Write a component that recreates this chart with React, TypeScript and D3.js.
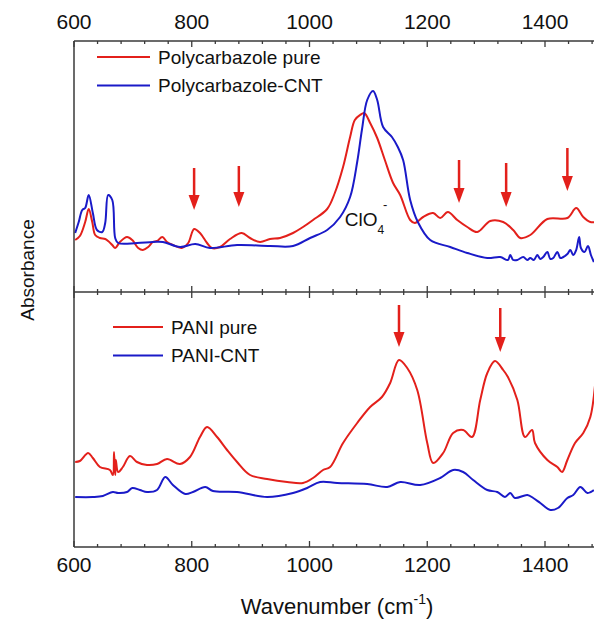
import React, { useEffect, useRef } from 'react';
import * as d3 from 'd3';

// wavenumber (cm-1), absorbance (a.u., offset per panel)
const pcPure: [number, number][] = [
  [602, 0.52], [610, 0.56], [619, 0.70], [625, 0.83], [631, 0.70], [636, 0.57], [644, 0.54],
  [653, 0.53], [658, 0.51], [665, 0.47], [670, 0.44], [678, 0.50], [690, 0.55], [699, 0.52],
  [709, 0.44], [717, 0.42], [726, 0.45], [734, 0.50], [741, 0.51], [750, 0.55], [758, 0.50],
  [768, 0.47], [783, 0.44], [794, 0.49], [804, 0.63], [814, 0.59], [826, 0.49], [834, 0.44],
  [848, 0.45], [865, 0.53], [885, 0.59], [899, 0.54], [916, 0.50], [933, 0.53], [950, 0.54],
  [972, 0.59], [989, 0.65], [1006, 0.72], [1030, 0.83], [1043, 0.99], [1057, 1.25], [1069, 1.55],
  [1077, 1.72], [1086, 1.77], [1093, 1.79], [1103, 1.69], [1115, 1.54], [1128, 1.32], [1142, 1.09],
  [1154, 0.97], [1171, 0.72], [1179, 0.69], [1193, 0.75], [1210, 0.79], [1222, 0.74], [1235, 0.80],
  [1251, 0.72], [1268, 0.65], [1285, 0.60], [1307, 0.71], [1329, 0.70], [1346, 0.62], [1358, 0.54],
  [1375, 0.57], [1404, 0.73], [1438, 0.74], [1453, 0.84], [1465, 0.75], [1477, 0.70], [1485, 0.70],
];

const pcCnt: [number, number][] = [
  [602, 0.59], [608, 0.70], [614, 0.82], [619, 0.84], [625, 0.97], [632, 0.79], [639, 0.62],
  [648, 0.60], [653, 0.69], [658, 0.97], [665, 0.92], [670, 0.54], [675, 0.49], [707, 0.49],
  [734, 0.50], [751, 0.50], [780, 0.45], [806, 0.48], [831, 0.44], [877, 0.47], [933, 0.46],
  [972, 0.46], [1001, 0.54], [1030, 0.62], [1052, 0.75], [1069, 0.95], [1081, 1.30], [1089, 1.62],
  [1098, 1.92], [1108, 2.01], [1115, 1.92], [1125, 1.65], [1140, 1.55], [1150, 1.45], [1159, 1.32],
  [1171, 0.92], [1184, 0.70], [1205, 0.52], [1239, 0.45], [1268, 0.39], [1302, 0.34], [1324, 0.35],
  [1337, 0.32], [1341, 0.37], [1346, 0.32], [1353, 0.32], [1363, 0.35], [1370, 0.32], [1375, 0.34],
  [1381, 0.32], [1387, 0.37], [1392, 0.33], [1397, 0.35], [1404, 0.40], [1409, 0.33], [1414, 0.34],
  [1421, 0.40], [1426, 0.34], [1431, 0.35], [1438, 0.38], [1443, 0.42], [1448, 0.37], [1453, 0.42],
  [1458, 0.55], [1461, 0.44], [1467, 0.40], [1473, 0.46], [1478, 0.37], [1483, 0.30],
];

const paniPure: [number, number][] = [
  [602, 0.85], [610, 0.86], [624, 0.94], [632, 0.89], [644, 0.80], [661, 0.77], [666, 0.72],
  [668, 0.95], [670, 0.72], [671, 0.87], [675, 0.75], [683, 0.80], [695, 0.91], [707, 0.85],
  [724, 0.82], [741, 0.83], [758, 0.88], [780, 0.83], [797, 0.90], [814, 1.10], [826, 1.20],
  [843, 1.10], [860, 0.97], [877, 0.85], [899, 0.72], [928, 0.68], [962, 0.65], [989, 0.64],
  [1006, 0.69], [1023, 0.77], [1035, 0.80], [1057, 1.04], [1081, 1.24], [1103, 1.40], [1123, 1.50],
  [1137, 1.64], [1152, 1.87], [1166, 1.79], [1183, 1.57], [1200, 1.04], [1210, 0.84], [1227, 0.94],
  [1244, 1.14], [1261, 1.17], [1276, 1.10], [1290, 1.47], [1302, 1.74], [1315, 1.86], [1329, 1.77],
  [1337, 1.70], [1353, 1.47], [1366, 1.10], [1378, 1.17], [1383, 1.04], [1404, 0.87], [1421, 0.80],
  [1429, 0.75], [1438, 0.87], [1451, 1.04], [1465, 1.14], [1477, 1.30], [1485, 1.62],
];

const paniCnt: [number, number][] = [
  [602, 0.50], [632, 0.50], [649, 0.51], [666, 0.55], [675, 0.54], [690, 0.55], [699, 0.59],
  [712, 0.57], [724, 0.55], [741, 0.57], [755, 0.70], [768, 0.62], [789, 0.53], [802, 0.55],
  [823, 0.60], [836, 0.56], [877, 0.55], [928, 0.50], [972, 0.54], [996, 0.59], [1018, 0.65],
  [1047, 0.64], [1098, 0.63], [1132, 0.60], [1154, 0.65], [1188, 0.62], [1222, 0.69], [1244, 0.77],
  [1261, 0.75], [1278, 0.67], [1302, 0.57], [1319, 0.55], [1332, 0.50], [1341, 0.54], [1349, 0.49],
  [1370, 0.52], [1380, 0.49], [1392, 0.44], [1409, 0.37], [1422, 0.39], [1438, 0.49], [1448, 0.52],
  [1460, 0.60], [1472, 0.54], [1483, 0.57],
];

// arrows: wavenumber, tail value, tip value
const topArrows: [number, number, number][] = [
  [804, 1.24, 0.82], [880, 1.26, 0.85], [1254, 1.32, 0.89], [1334, 1.29, 0.85], [1438, 1.44, 1.01],
];
const bottomArrows: [number, number, number][] = [
  [1152, 2.42, 2.0], [1324, 2.39, 1.95],
];

const xTicks = [600, 800, 1000, 1200, 1400];
const topLegend = ['Polycarbazole pure', 'Polycarbazole-CNT'];
const bottomLegend = ['PANI pure', 'PANI-CNT'];

const RED = '#e3201b';
const BLUE = '#1a1ac8';
const AXIS = '#3a3a3a';
const FONT = '"Liberation Sans", Arial, sans-serif';

const App = () => {
  const svgRef = useRef<SVGSVGElement>(null);
  const width = 594;
  const height = 620;

  useEffect(() => {
    const svg = d3.select(svgRef.current);
    svg.selectAll('*').remove();

    const left = 74, top = 41, mid = 292, bottom = 547, right = 600;

    const x = d3.scaleLinear().domain([600, 1400]).range([74, 545]);
    const yTop = d3.scaleLinear().domain([0, 2.51]).range([mid, top]);
    const yBot = d3.scaleLinear().domain([0, 2.55]).range([bottom, mid]);

    const line = (ys: d3.ScaleLinear<number, number>) =>
      d3.line<[number, number]>()
        .x(d => x(d[0]))
        .y(d => ys(d[1]))
        .curve(d3.curveCatmullRom.alpha(0.5));

    const drawSeries = (data: [number, number][], ys: d3.ScaleLinear<number, number>, color: string) => {
      svg.append('path')
        .datum(data)
        .attr('d', line(ys))
        .attr('fill', 'none')
        .attr('stroke', color)
        .attr('stroke-width', 2)
        .attr('stroke-linejoin', 'round');
    };

    drawSeries(pcPure, yTop, RED);
    drawSeries(pcCnt, yTop, BLUE);
    drawSeries(paniPure, yBot, RED);
    drawSeries(paniCnt, yBot, BLUE);

    // frame
    const ax = svg.append('g').attr('stroke', AXIS).attr('stroke-width', 1.5);
    [top, mid, bottom].forEach(yy => {
      ax.append('line').attr('x1', left).attr('x2', right).attr('y1', yy).attr('y2', yy);
    });
    ax.append('line').attr('x1', left).attr('x2', left).attr('y1', top).attr('y2', bottom);

    // ticks (inward)
    const minor = d3.range(600, 1500, 40).filter(v => v % 200 !== 0);
    const major = d3.range(600, 1600, 200);
    const ticks = svg.append('g').attr('stroke', AXIS).attr('stroke-width', 1.3);
    const addTicks = (vals: number[], len: number) => {
      vals.forEach(v => {
        const px = x(v);
        ticks.append('line').attr('x1', px).attr('x2', px).attr('y1', top).attr('y2', top + len);
        ticks.append('line').attr('x1', px).attr('x2', px).attr('y1', mid - len).attr('y2', mid + len);
        ticks.append('line').attr('x1', px).attr('x2', px).attr('y1', bottom).attr('y2', bottom - len);
      });
    };
    addTicks(major, 6);
    addTicks(minor, 3);

    // tick labels
    xTicks.forEach(v => {
      svg.append('text').attr('x', x(v)).attr('y', 29)
        .attr('text-anchor', 'middle').attr('font-family', FONT).attr('font-size', 21)
        .attr('fill', '#111').text(v);
      svg.append('text').attr('x', x(v)).attr('y', 572)
        .attr('text-anchor', 'middle').attr('font-family', FONT).attr('font-size', 21)
        .attr('fill', '#111').text(v);
    });

    // axis titles
    const xt = svg.append('text').attr('x', 337).attr('y', 614)
      .attr('text-anchor', 'middle').attr('font-family', FONT).attr('font-size', 22).attr('fill', '#111');
    xt.append('tspan').text('Wavenumber (cm');
    xt.append('tspan').attr('font-size', 14).attr('dy', -10).text('-1');
    xt.append('tspan').attr('dy', 10).text(')');

    svg.append('text')
      .attr('transform', 'translate(34,270) rotate(-90)')
      .attr('text-anchor', 'middle').attr('font-family', FONT).attr('font-size', 19)
      .attr('fill', '#111').text('Absorbance');

    // legends
    const legend = (labels: string[], x0: number, y0: number, len: number) => {
      labels.forEach((lab, i) => {
        const yy = y0 + i * 28.5;
        svg.append('line').attr('x1', x0).attr('x2', x0 + len).attr('y1', yy).attr('y2', yy)
          .attr('stroke', i === 0 ? RED : BLUE).attr('stroke-width', 2);
        svg.append('text').attr('x', x0 + len + 8).attr('y', yy).attr('dy', '0.36em')
          .attr('font-family', FONT).attr('font-size', 19).attr('fill', '#111').text(lab);
      });
    };
    legend(topLegend, 97, 57, 53);
    legend(bottomLegend, 113, 327, 50);

    // ClO4- annotation
    const cl = svg.append('text').attr('x', x(1060)).attr('y', yTop(0.66))
      .attr('font-family', FONT).attr('font-size', 19).attr('fill', '#111');
    cl.append('tspan').text('ClO');
    cl.append('tspan').attr('font-size', 12).attr('dy', 8).text('4');
    svg.append('text').attr('x', x(1125)).attr('y', yTop(0.83))
      .attr('font-family', FONT).attr('font-size', 13).attr('fill', '#111').text('-');

    // arrows
    const drawArrow = (a: [number, number, number], ys: d3.ScaleLinear<number, number>) => {
      const px = x(a[0]);
      const y1 = ys(a[1]);
      const y2 = ys(a[2]);
      svg.append('line').attr('x1', px).attr('x2', px).attr('y1', y1).attr('y2', y2 - 12)
        .attr('stroke', RED).attr('stroke-width', 2.5);
      svg.append('path')
        .attr('d', `M${px - 5.5},${y2 - 15} L${px + 5.5},${y2 - 15} L${px},${y2} Z`)
        .attr('fill', RED);
    };
    topArrows.forEach(a => drawArrow(a, yTop));
    bottomArrows.forEach(a => drawArrow(a, yBot));
  }, []);

  return (
    <svg ref={svgRef} width={width} height={height}
      style={{ position: 'absolute', left: 0, top: 0, background: '#fff' }} />
  );
};

export default App;
